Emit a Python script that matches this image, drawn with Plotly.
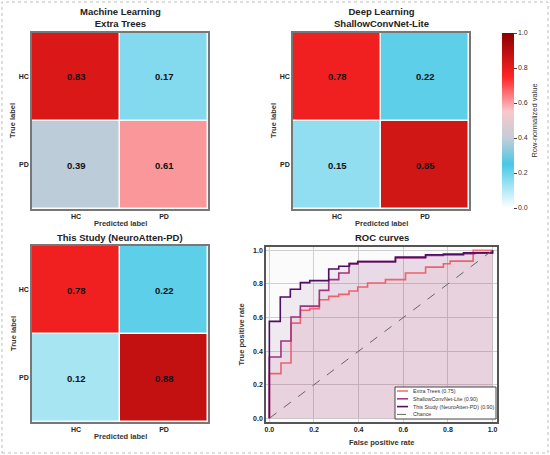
import plotly.graph_objects as go

# confusion matrices (row-normalized)
classes = ["HC", "PD"]
cm_extra_trees = [[0.83, 0.17], [0.39, 0.61]]
cm_shallow = [[0.78, 0.22], [0.15, 0.85]]
cm_neuro = [[0.78, 0.22], [0.12, 0.88]]

# ROC curves (x where the step happens, level after it)
fpr_et = [0, 0, 0.052, 0.097, 0.139, 0.181, 0.224, 0.266, 0.311, 0.357, 0.396, 0.44, 0.52, 0.61, 0.70, 0.78, 0.81, 0.913, 1.0]
tpr_et = [0, 0.266, 0.329, 0.567, 0.643, 0.653, 0.706, 0.726, 0.738, 0.758, 0.782, 0.806, 0.826, 0.865, 0.90, 0.92, 0.936, 1.0, 1.0]
fpr_sc = [0, 0, 0.052, 0.097, 0.139, 0.224, 0.266, 0.311, 0.357, 0.396, 0.565, 0.70, 0.78, 0.92, 1.0]
tpr_sc = [0, 0.365, 0.46, 0.603, 0.668, 0.762, 0.826, 0.865, 0.921, 0.933, 0.955, 0.97, 0.98, 0.985, 1.0]
fpr_ns = [0, 0, 0.049, 0.094, 0.139, 0.181, 0.266, 0.311, 0.359, 0.396, 0.565, 0.70, 0.87, 1.0]
tpr_ns = [0, 0.577, 0.722, 0.768, 0.808, 0.82, 0.889, 0.905, 0.921, 0.933, 0.96, 0.974, 0.985, 1.0]
roc_names = ["Extra Trees (0.75)", "ShallowConvNet-Lite (0.90)", "This Study (NeuroAtten-PD) (0.90)"]
roc_colors = ["#ff6e6e", "#a8377f", "#4f0f63"]
roc_fills = ["rgba(255,110,110,0.08)", "rgba(168,55,127,0.08)", "rgba(79,15,99,0.07)"]

W, H = 550, 455
FONT = "Liberation Sans, Arial, sans-serif"

def px(x):
    return x / W

def py(y):
    return 1 - y / H

def note(text, x, y, size, **kw):
    # annotation placed in figure pixels
    d = dict(x=px(x), y=py(y), xref="paper", yref="paper", text=text, showarrow=False,
             xanchor="center", yanchor="middle",
             font=dict(size=size, family=FONT, color=kw.pop("color", "#333")))
    d.update(kw)
    return d

cscale = [[0, "#ffffff"], [0.25, "#48c8e6"], [0.40, "#c4cdd8"], [0.55, "#f8c8cc"],
          [0.75, "#ff2424"], [1, "#8b0000"]]

fig = go.Figure()
annotations = []

heat_panels = [
    (cm_extra_trees, "x", "y", (32, 208), (33, 209)),
    (cm_shallow, "x2", "y2", (293, 469), (33, 209)),
    (cm_neuro, "x3", "y3", (32, 208), (246, 422)),
]
layout_axes = {}
for i, (cm, xa, ya, (x0, x1), (y0, y1)) in enumerate(heat_panels):
    fig.add_trace(go.Heatmap(z=cm, x=classes, y=classes, coloraxis="coloraxis",
                             xgap=1.5, ygap=1.5, xaxis=xa, yaxis=ya,
                             hovertemplate="%{z:.2f}<extra></extra>"))
    xk = "xaxis" + ("" if i == 0 else str(i + 1))
    yk = "yaxis" + ("" if i == 0 else str(i + 1))
    layout_axes[xk] = dict(domain=[px(x0), px(x1)], anchor=ya, range=[-0.5, 1.5],
                           showline=True, mirror=True, linecolor="#777777", linewidth=1.5,
                           showgrid=False, zeroline=False, ticks="", automargin=False,
                           tickfont=dict(size=7, family=FONT, color="#222", weight="bold"))
    layout_axes[yk] = dict(domain=[py(y1), py(y0)], anchor=xa, range=[1.5, -0.5],
                           showline=True, mirror=True, linecolor="#777777", linewidth=1.5,
                           showgrid=False, zeroline=False, ticks="", automargin=False,
                           tickfont=dict(size=7, family=FONT, color="#222", weight="bold"))
    for r in range(2):
        for c in range(2):
            annotations.append(dict(x=classes[c], y=classes[r], xref=xa, yref=ya,
                                    text="<b>%.2f</b>" % cm[r][c], showarrow=False,
                                    font=dict(size=9.5, family=FONT, color="#111")))
    annotations.append(note("<b>Predicted label</b>", (x0 + x1) / 2, y1 + 14, 7.5))
    annotations.append(note("<b>True label</b>", x0 - 19, (y0 + y1) / 2, 7.5, textangle=-90))

titles = [
    ("Machine Learning<br>Extra Trees", 120, 18),
    ("Deep Learning<br>ShallowConvNet-Lite", 381, 18),
    ("This Study (NeuroAtten-PD)", 120, 237),
    ("ROC curves", 381.5, 237),
]
for t, x, y in titles:
    annotations.append(note("<b>%s</b>" % t, x, y, 9.5, color="#222"))

# ROC panel
rocs = [(fpr_et, tpr_et), (fpr_sc, tpr_sc), (fpr_ns, tpr_ns)]
for (f, t), name, col, fc in zip(rocs, roc_names, roc_colors, roc_fills):
    fig.add_trace(go.Scatter(x=f, y=t, mode="lines", line=dict(color=col, width=1.6, shape="hv"),
                             fill="tozeroy", fillcolor=fc, name=name, xaxis="x4", yaxis="y4",
                             showlegend=False))
fig.add_trace(go.Scatter(x=[0, 1], y=[0, 1], mode="lines", name="Chance",
                         line=dict(color="#666", width=1, dash="dash"),
                         xaxis="x4", yaxis="y4", showlegend=False))

rx0, rx1, ry0, ry1 = 266, 497, 247, 422
ticks = [0, 0.2, 0.4, 0.6, 0.8, 1.0]
layout_axes["xaxis4"] = dict(domain=[px(rx0), px(rx1)], anchor="y4", range=[-0.015, 1.02],
                             tickvals=ticks, tickformat=".1f", showline=True, mirror=True,
                             linecolor="#555", linewidth=1.5, gridcolor="#cfcfcf", gridwidth=0.8,
                             zeroline=False, ticks="", automargin=False,
                             tickfont=dict(size=7, family=FONT, color="#222", weight="bold"))
layout_axes["yaxis4"] = dict(domain=[py(ry1), py(ry0)], anchor="x4", range=[-0.022, 1.02],
                             tickvals=ticks, tickformat=".1f", showline=True, mirror=True,
                             linecolor="#555", linewidth=1.5, gridcolor="#cfcfcf", gridwidth=0.8,
                             zeroline=False, ticks="", automargin=False,
                             tickfont=dict(size=7, family=FONT, color="#222", weight="bold"))
annotations.append(note("<b>False positive rate</b>", (rx0 + rx1) / 2, ry1 + 20, 7.5))
annotations.append(note("<b>True positive rate</b>", rx0 - 25, (ry0 + ry1) / 2, 7.5, textangle=-90))

# hand-made legend (plotly's legend rows are too tall for this size)
shapes = [dict(type="rect", xref="paper", yref="paper", x0=px(395), x1=px(496), y0=py(419), y1=py(387),
               line=dict(color="#444", width=1), fillcolor="white", layer="above")]
leg_names = roc_names + ["Chance"]
leg_colors = roc_colors + ["#666"]
for k, (n, c) in enumerate(zip(leg_names, leg_colors)):
    yy = 391 + k * 7.8
    shapes.append(dict(type="line", xref="paper", yref="paper", x0=px(397), x1=px(408),
                       y0=py(yy), y1=py(yy), layer="above",
                       line=dict(color=c, width=1 if k == 3 else 1.6, dash="dash" if k == 3 else "solid")))
    annotations.append(note(n, 411, yy, 5.3, xanchor="left"))

# dotted frame round the figure
shapes.append(dict(type="rect", xref="paper", yref="paper", x0=px(2), x1=px(548), y0=py(453), y1=py(2),
                   line=dict(color="#bdbdbd", width=1, dash="dot")))

fig.update_layout(
    width=W, height=H, template="none",
    margin=dict(l=0, r=0, t=0, b=0, pad=0, autoexpand=False),
    paper_bgcolor="white", plot_bgcolor="#fbfbfb",
    font=dict(family=FONT),
    coloraxis=dict(colorscale=cscale, cmin=0, cmax=1,
                   colorbar=dict(x=px(502), xanchor="left", y=py(120.5), yanchor="middle",
                                 len=175 / H, lenmode="fraction", thickness=12,
                                 xpad=0, ypad=0, outlinewidth=0,
                                 tickvals=ticks, tickformat=".1f", ticks="outside", ticklen=3,
                                 tickcolor="#444", tickfont=dict(size=7, family=FONT, color="#333"),
                                 title=dict(text="Row-normalized value", side="right",
                                            font=dict(size=7.5, family=FONT, color="#333")))),
    annotations=annotations, shapes=shapes,
    **layout_axes,
)

fig.write_html("out.html", config={"displayModeBar": False},
               post_script="document.body.style.margin='0';")
